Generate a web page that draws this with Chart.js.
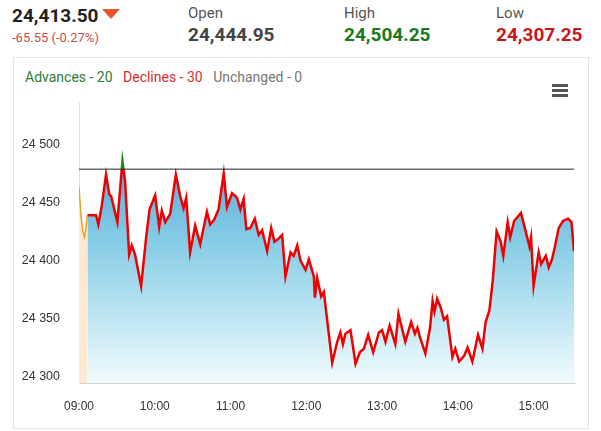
<!DOCTYPE html>
<html><head><meta charset="utf-8">
<script src="https://cdn.jsdelivr.net/npm/chart.js@4.4.1/dist/chart.umd.min.js"></script>
<style>
  body { margin: 0; width: 601px; height: 431px; background: #fff; font-family: Roboto, "Open Sans", sans-serif; position: relative; overflow: hidden; }
  .q { position: absolute; }
  .last { left: 12px; top: 4px; font-size: 19px; font-weight: 700; color: #222; }
  .tri { display: inline-block; width: 0; height: 0; border-left: 9px solid transparent; border-right: 9px solid transparent; border-top: 10px solid #e8572a; vertical-align: 3px; margin-left: 3px; }
  .chg { left: 12px; top: 30px; font-size: 13px; color: #c0504d; }
  .lab { font-size: 15px; color: #555; top: 4px; }
  .val { font-size: 19px; font-weight: 700; top: 23px; }
  .card { position: absolute; left: 13px; top: 57px; width: 574px; height: 370px; border: 1px solid #e3e3e3; }
  .breadth { position: absolute; left: 11px; top: 11px; font-size: 14px; }
  .menu { position: absolute; left: 538px; top: 26px; width: 16px; }
  .menu i { display: block; height: 3px; background: #555; margin-bottom: 2px; }
  #wrap { position: absolute; left: 0; top: 26px; width: 574px; height: 342px; }
</style></head>
<body>
<div class="q last">24,413.50<span class="tri"></span></div>
<div class="q chg">-65.55 (-0.27%)</div>
<div class="q lab" style="left:188px">Open</div>
<div class="q val" style="left:188px;color:#444">24,444.95</div>
<div class="q lab" style="left:344px">High</div>
<div class="q val" style="left:344px;color:#1a7a1a">24,504.25</div>
<div class="q lab" style="left:496px">Low</div>
<div class="q val" style="left:496px;color:#c8161d">24,307.25</div>
<div class="card">
  <div class="breadth"><span style="color:#2e7d32">Advances - 20</span>&nbsp;&nbsp;&nbsp;<span style="color:#d32f2f">Declines - 30</span>&nbsp;&nbsp;&nbsp;<span style="color:#777">Unchanged - 0</span></div>
  <div class="menu"><i></i><i></i><i></i></div>
  <div id="wrap"><canvas id="c"></canvas></div>
</div>
<script>
// minutes after 09:00
const preMin = [0, 1.5, 3, 4.5, 5.5, 6.6];
const preVal = [24463, 24440, 24425, 24420, 24428, 24439];
const mins = [6.6, 13.5, 15.3, 18, 21.4, 24, 25.5, 30.4, 34.4, 36.5, 39.7, 41.8, 44.4, 49.2, 53.2, 55.9, 60.3, 63.5, 65.6, 68.3, 72.2, 76.7, 80.2, 82.8, 84.9, 88, 92, 96, 101.3, 103.9, 107, 110.5, 114.6, 117.2, 121.2, 125.1, 127.8, 130.4, 132.5, 135.7, 139.2, 142.3, 145, 149, 152.2, 154.8, 158.3, 160.9, 163.5, 167.5, 170, 172.8, 175.4, 179.4, 182, 186, 186.8, 188.6, 191.8, 193.9, 200.5, 204.5, 207, 209, 211, 215, 219, 222.4, 225.6, 229, 233, 237.5, 240, 242.7, 246, 250.5, 253, 258.4, 263, 266, 268, 270, 274.3, 278, 280, 281.5, 283.6, 286.3, 289, 291.5, 295.7, 298, 301, 305, 307.7, 311.5, 316, 319.5, 322, 325, 327.7, 330.7, 334, 336, 339.5, 341.5, 344.6, 350, 353.3, 356.7, 358, 360, 364, 366, 369.7, 372, 374.6, 376.7, 379.9, 383.3, 387.3, 390, 392];
const vals = [24439, 24439, 24431, 24447, 24474, 24457, 24455, 24433, 24485.5, 24468, 24405, 24413, 24405, 24378, 24420, 24444, 24456, 24429, 24443, 24433, 24440, 24474, 24455, 24445, 24454, 24407, 24430, 24414, 24442, 24431, 24435, 24444, 24475, 24446, 24458, 24454, 24444, 24453, 24427, 24428, 24436, 24422, 24426, 24408, 24428, 24416, 24419, 24422, 24386, 24407, 24404, 24413, 24400, 24392, 24401, 24386, 24368, 24385, 24369, 24373, 24312, 24330, 24338, 24328, 24337, 24340, 24311, 24321, 24324, 24336, 24321, 24338, 24340, 24330, 24344, 24328, 24354, 24330, 24347, 24337, 24342, 24334, 24320, 24342, 24365, 24356, 24367, 24360, 24349, 24352, 24317, 24324, 24313, 24318, 24325, 24313, 24336, 24324, 24347, 24357, 24383, 24425, 24416, 24404, 24433, 24420, 24434, 24441, 24427, 24412, 24420, 24378, 24407, 24397, 24404, 24394, 24401, 24411, 24428, 24434, 24436, 24433, 24408];
const prevClose = 24479.05;
const xTicks = ["09:00", "10:00", "11:00", "12:00", "13:00", "14:00", "15:00"];

const pts = (m, v) => m.map((x, i) => ({ x, y: v[i] }));
const closeLine = {
  id: "closeLine",
  afterDatasetsDraw(c) {
    const y = c.scales.y.getPixelForValue(prevClose), a = c.chartArea, ctx = c.ctx;
    ctx.save(); ctx.strokeStyle = "#222"; ctx.lineWidth = 1;
    ctx.beginPath(); ctx.moveTo(a.left, y + 0.5); ctx.lineTo(a.right, y + 0.5); ctx.stroke(); ctx.restore();
  }
};
// green above previous close, red below
const lineColor = (ctx) => {
  const c = ctx.chart, a = c.chartArea; if (!a) return "#ee0000";
  const y = c.scales.y.getPixelForValue(prevClose), f = Math.min(1, Math.max(0, (y - a.top) / (a.bottom - a.top)));
  const g = c.ctx.createLinearGradient(0, a.top, 0, a.bottom);
  g.addColorStop(0, "#1a8a1a"); g.addColorStop(f, "#1a8a1a"); g.addColorStop(f, "#ee0000"); g.addColorStop(1, "#ee0000");
  return g;
};
new Chart(document.getElementById("c"), {
  type: "line",
  data: { datasets: [
    { data: pts(preMin, preVal), borderColor: "#f0a020", borderWidth: 1.5, pointRadius: 0, tension: 0, fill: "start", backgroundColor: "#fde8d2" },
    { data: pts(mins, vals), borderWidth: 2.5, pointRadius: 0, tension: 0, fill: "start", borderColor: lineColor,
      backgroundColor: (ctx) => {
        const a = ctx.chart.chartArea; if (!a) return "#8cc";
        const g = ctx.chart.ctx.createLinearGradient(0, a.top, 0, a.bottom);
        g.addColorStop(0, "#3b8fcc"); g.addColorStop(0.5, "#86cde6"); g.addColorStop(1, "#f2fcfe");
        return g;
      } },
  ] },
  options: {
    responsive: true, maintainAspectRatio: false, animation: false,
    layout: { padding: { right: 14, top: 0, bottom: 4 } },
    plugins: { legend: { display: false }, tooltip: { enabled: false } },
    scales: {
      x: { type: "linear", min: 0, max: 392, grid: { display: false }, border: { color: "#ccc" },
        afterBuildTicks: (ax) => { ax.ticks = xTicks.map((_, i) => ({ value: i * 60 })); },
        ticks: { color: "#333", font: { size: 12 }, padding: 8, callback: (v) => xTicks[v / 60] } },
      y: { min: 24294, max: 24536, grid: { display: false }, border: { color: "#e0e0e0" },
        afterFit: (ax) => { ax.width = 65; },
        afterBuildTicks: (ax) => { ax.ticks = [24300, 24350, 24400, 24450, 24500].map((v) => ({ value: v })); },
        ticks: { color: "#333", font: { size: 12.5 }, padding: 11, callback: (v) => String(v).replace(/(\d\d)(\d{3})$/, "$1 $2") } },
    },
  },
  plugins: [closeLine],
});
</script>
</body></html>
